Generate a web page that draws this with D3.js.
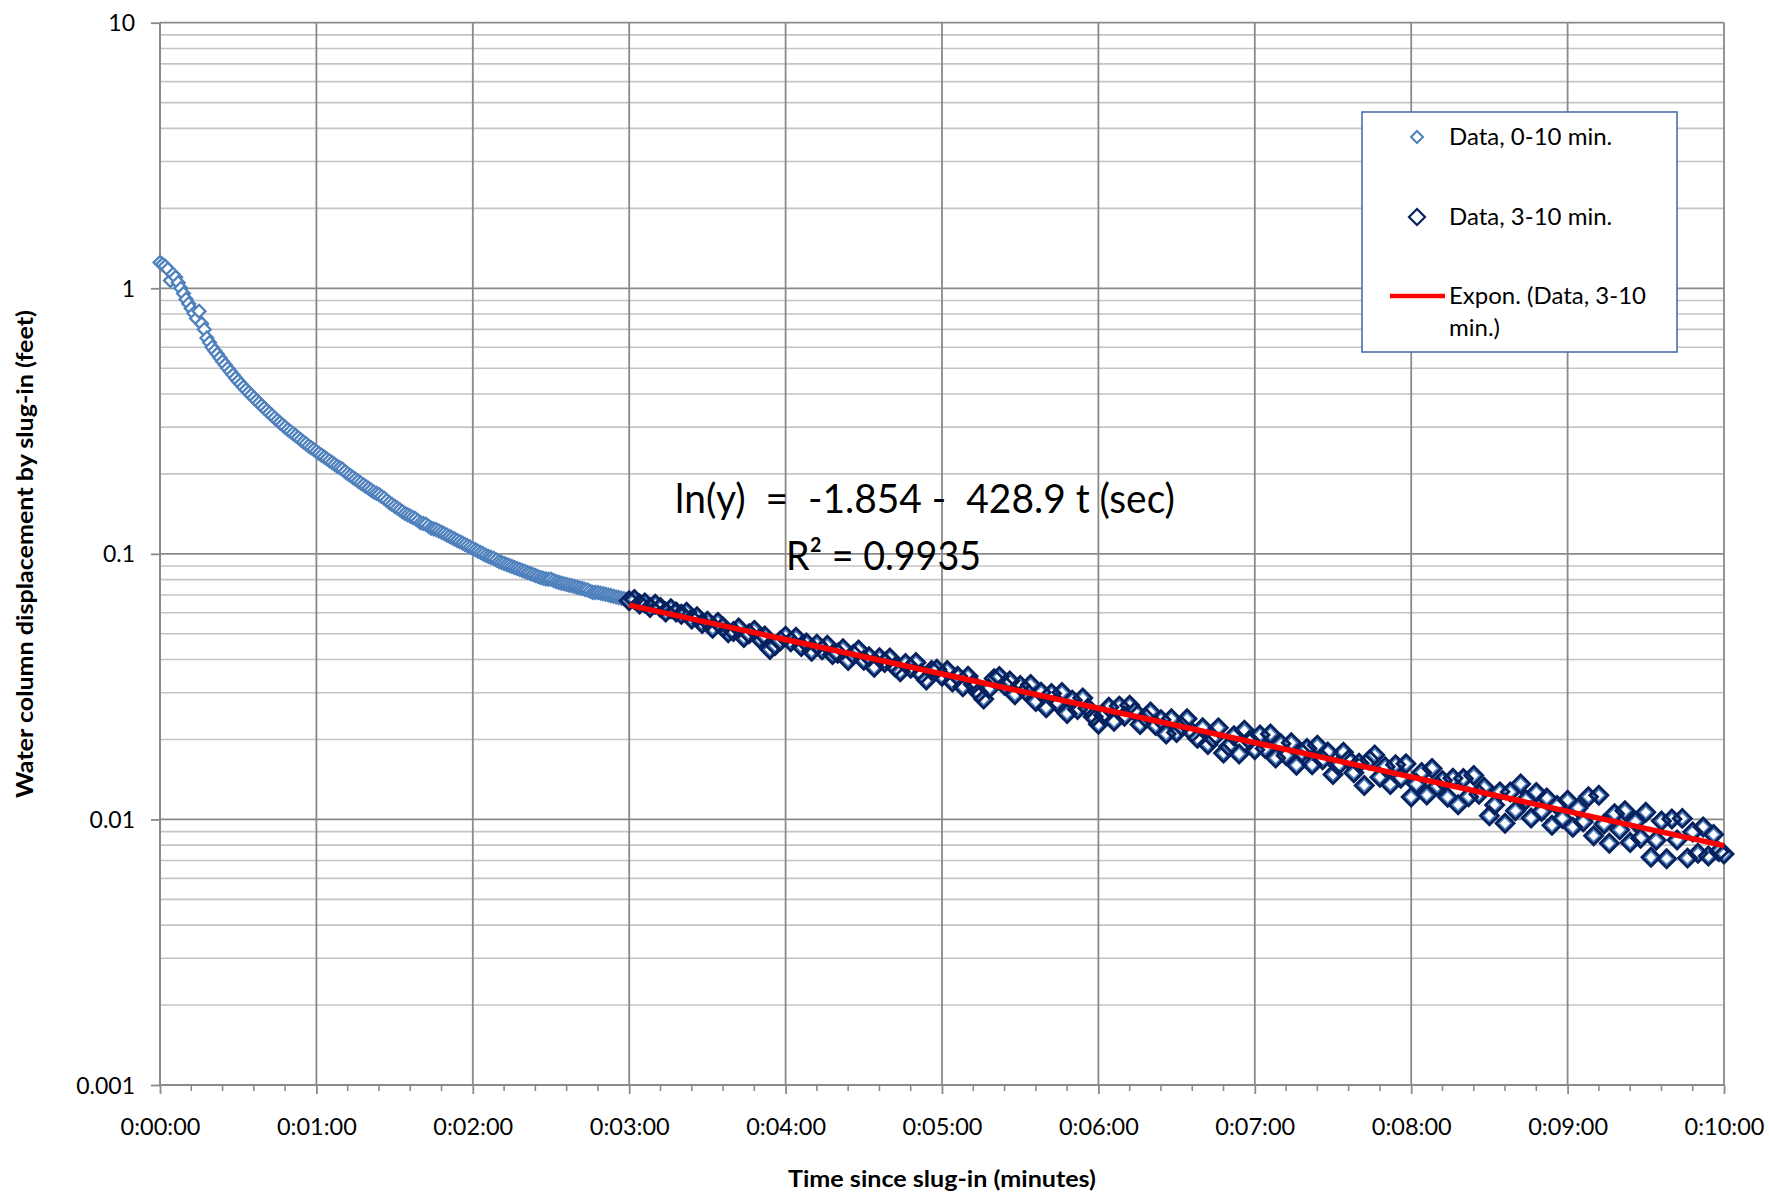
<!DOCTYPE html>
<html>
<head>
<meta charset="utf-8">
<script src="https://cdn.jsdelivr.net/npm/d3@7"></script>
<style>
  body { margin: 0; background: #fff; }
  text { font-family: Lato, "Open Sans", sans-serif; fill: #000; }
</style>
</head>
<body>
<div id="chartArea"></div>
<script>

// logger readings, water column displacement (feet)
// first 3 minutes every 1 s, after that every 2 s
var earlyStartSec = 0, earlyStepSec = 1
var earlyFeet = [
  1.25, 1.23, 1.21, 1.18, 1.07, 1.13, 1.10, 1.05, 1.00, 0.955,
  0.91, 0.875, 0.84, 0.805, 0.77, 0.82, 0.735, 0.70, 0.65, 0.625,
  0.60, 0.582, 0.565, 0.547, 0.53, 0.515, 0.50, 0.486, 0.472, 0.459,
  0.447, 0.436, 0.425, 0.415, 0.405, 0.396, 0.387, 0.378, 0.370, 0.362,
  0.354, 0.346, 0.339, 0.332, 0.325, 0.318, 0.312, 0.306, 0.300, 0.294,
  0.289, 0.284, 0.279, 0.274, 0.269, 0.264, 0.260, 0.255, 0.251, 0.247,
  0.243, 0.239, 0.2353, 0.2316, 0.2279, 0.2243, 0.2207, 0.2172, 0.2137, 0.2110,
  0.2085, 0.2040, 0.2004, 0.1972, 0.1941, 0.1910, 0.1879, 0.1850, 0.1821, 0.1793,
  0.1765, 0.1738, 0.1711, 0.1690, 0.1672, 0.1645, 0.1620, 0.1589, 0.1559, 0.1535,
  0.1511, 0.1488, 0.1465, 0.1442, 0.1420, 0.1403, 0.1387, 0.1371, 0.1355, 0.1332,
  0.1310, 0.1301, 0.1293, 0.1271, 0.1250, 0.1242, 0.1234, 0.1220, 0.1206, 0.1192,
  0.1178, 0.1164, 0.1151, 0.1137, 0.1124, 0.1111, 0.1098, 0.1085, 0.1073, 0.1060,
  0.1048, 0.1036, 0.1024, 0.1012, 0.1000, 0.0988, 0.0977, 0.0970, 0.0962, 0.0949,
  0.0936, 0.0928, 0.0920, 0.0912, 0.0904, 0.0896, 0.0888, 0.0880, 0.0873, 0.0865,
  0.0858, 0.0850, 0.0843, 0.0836, 0.0829, 0.0821, 0.0814, 0.0810, 0.0805, 0.0803,
  0.0802, 0.0794, 0.0786, 0.0781, 0.0776, 0.0771, 0.0767, 0.0762, 0.0758, 0.0753,
  0.0749, 0.0744, 0.0740, 0.0735, 0.0731, 0.0723, 0.0716, 0.0716, 0.0715, 0.0711,
  0.0708, 0.0704, 0.0700, 0.0696, 0.0692, 0.0688, 0.0685, 0.0681, 0.0678, 0.0674
]

var lateStartSec = 180, lateStepSec = 2
var lateFeet = [
  0.06664, 0.06726, 0.06470, 0.06531, 0.06281, 0.06464, 0.06278, 0.06038, 0.06215, 0.06036,
  0.05918, 0.06032, 0.05688, 0.05801, 0.05464, 0.05576, 0.05248, 0.05521, 0.05305, 0.05041,
  0.05096, 0.05254, 0.04842, 0.04998, 0.05151, 0.04800, 0.04901, 0.04362, 0.04513, 0.04709,
  0.04900, 0.04663, 0.04850, 0.04478, 0.04618, 0.04301, 0.04572, 0.04349, 0.04526, 0.04176,
  0.04222, 0.04393, 0.03970, 0.04181, 0.04347, 0.03976, 0.04100, 0.03738, 0.04059, 0.03901,
  0.04057, 0.03746, 0.03595, 0.03863, 0.03712, 0.03898, 0.03529, 0.03348, 0.03639, 0.03675,
  0.03461, 0.03637, 0.03290, 0.03462, 0.03157, 0.03462, 0.03228, 0.02998, 0.02838, 0.03101,
  0.03390, 0.03451, 0.03198, 0.03321, 0.02950, 0.03195, 0.03043, 0.03222, 0.02777, 0.03013,
  0.02635, 0.02982, 0.02754, 0.03008, 0.02505, 0.02811, 0.02592, 0.02863, 0.02622, 0.02436,
  0.02281, 0.02466, 0.02647, 0.02341, 0.02671, 0.02445, 0.02692, 0.02544, 0.02277, 0.02422,
  0.02540, 0.02257, 0.02374, 0.02097, 0.02396, 0.02123, 0.02237, 0.02392, 0.02127, 0.02019,
  0.02215, 0.01915, 0.02023, 0.02212, 0.01777, 0.01882, 0.02066, 0.01764, 0.02165, 0.01986,
  0.01830, 0.02081, 0.01851, 0.02098, 0.01703, 0.01926, 0.01742, 0.01943, 0.01600, 0.01780,
  0.01851, 0.01605, 0.01901, 0.01677, 0.01796, 0.01476, 0.01595, 0.01792, 0.01677, 0.01499,
  0.01628, 0.01343, 0.01675, 0.01750, 0.01442, 0.01580, 0.01354, 0.01608, 0.01430, 0.01621,
  0.01214, 0.01359, 0.01502, 0.01235, 0.01556, 0.01334, 0.01402, 0.01213, 0.01428, 0.01136,
  0.01427, 0.01218, 0.01463, 0.01245, 0.01321, 0.01033, 0.01134, 0.01270, 0.00967, 0.01269,
  0.01078, 0.01361, 0.01185, 0.01012, 0.01264, 0.01072, 0.01205, 0.00950, 0.01128, 0.01008,
  0.01180, 0.00935, 0.01105, 0.00979, 0.01217, 0.00868, 0.01233, 0.00961, 0.00813, 0.01050,
  0.009134, 0.010776, 0.008192, 0.009809, 0.008498, 0.010634, 0.007200, 0.008340, 0.009873, 0.007110,
  0.010030, 0.008363, 0.010091, 0.007150, 0.008963, 0.007452, 0.009368, 0.007277, 0.008777, 0.007564,
  0.007408
]

// Excel exponential trendline, end points (ln(y) = -1.854 - 428.9 t[days])
var trendSec = [180, 600]
var trendFeet = [0.06408, 0.007966]

var yTicks = [0.001, 0.01, 0.1, 1, 10]
var yTickLabels = ["0.001", "0.01", "0.1", "1", "10"]
var xTickSec = [0, 60, 120, 180, 240, 300, 360, 420, 480, 540, 600]
var xTickLabels = ["0:00:00", "0:01:00", "0:02:00", "0:03:00", "0:04:00", "0:05:00",
  "0:06:00", "0:07:00", "0:08:00", "0:09:00", "0:10:00"]

var seriesNames = ["Data, 0-10 min.", "Data, 3-10 min.", "Expon. (Data, 3-10", "min.)"]

var W = 1769, H = 1194
var plotLeft = 160, plotRight = 1724, plotTop = 22.7, plotBottom = 1085

var lightBlue = "#4f81bd", navy = "#06215e", red = "#ff0000"
var gridMajor = "#8a8a8a", gridMinor = "#c4c4c4"

// build points
var allPts = []
earlyFeet.forEach(function (v, i) { allPts.push({ t: earlyStartSec + i * earlyStepSec, v: v }) })
lateFeet.forEach(function (v, i) { allPts.push({ t: lateStartSec + i * lateStepSec, v: v }) })
var latePts = allPts.filter(function (d) { return d.t >= 180 })

var x = d3.scaleLinear().domain([0, 600]).range([plotLeft, plotRight])
var y = d3.scaleLog().domain([0.001, 10]).range([plotBottom, plotTop])

var svg = d3.select('#chartArea').append('svg')
  .attr('width', W).attr('height', H)
  .style('display', 'block')

svg.append('rect').attr('width', W).attr('height', H).attr('fill', '#fff')

// minor horizontal grid (2..9 in each decade)
var minorY = []
yTicks.slice(0, -1).forEach(function (d) {
  for (var k = 2; k <= 9; k++) minorY.push(d * k)
})
svg.append('g').selectAll('line').data(minorY).enter().append('line')
  .attr('x1', plotLeft).attr('x2', plotRight)
  .attr('y1', function (d) { return y(d) }).attr('y2', function (d) { return y(d) })
  .attr('stroke', gridMinor).attr('stroke-width', 1.6)

// major grid
svg.append('g').selectAll('line').data(yTicks).enter().append('line')
  .attr('x1', plotLeft).attr('x2', plotRight)
  .attr('y1', function (d) { return y(d) }).attr('y2', function (d) { return y(d) })
  .attr('stroke', gridMajor).attr('stroke-width', 1.8)

svg.append('g').selectAll('line').data(xTickSec).enter().append('line')
  .attr('x1', function (d) { return x(d) }).attr('x2', function (d) { return x(d) })
  .attr('y1', plotTop).attr('y2', plotBottom)
  .attr('stroke', gridMajor).attr('stroke-width', 1.8)

// y axis
var yAxis = d3.axisLeft(y).tickValues(yTicks).tickSize(9)
  .tickFormat(function (d, i) { return yTickLabels[i] })
var gy = svg.append('g').attr('transform', 'translate(' + plotLeft + ',0)').call(yAxis)
gy.select('.domain').attr('d', 'M0,' + plotTop + 'V' + plotBottom)
  .attr('stroke', gridMajor).attr('stroke-width', 1.8)
gy.selectAll('.tick line').attr('stroke', gridMajor).attr('stroke-width', 1.8)
gy.selectAll('.tick text').attr('x', -25).attr('dy', '0.35em')
  .style('font-size', '23px').style('font-family', 'Lato')

// x axis, minor ticks every 12 s
var minorX = d3.range(0, 601, 12).filter(function (d) { return d % 60 != 0 })
svg.append('g').selectAll('line').data(minorX).enter().append('line')
  .attr('x1', function (d) { return x(d) }).attr('x2', function (d) { return x(d) })
  .attr('y1', plotBottom).attr('y2', plotBottom + 6)
  .attr('stroke', gridMajor).attr('stroke-width', 1.6)

var xAxis = d3.axisBottom(x).tickValues(xTickSec).tickSize(9)
  .tickFormat(function (d, i) { return xTickLabels[i] })
var gx = svg.append('g').attr('transform', 'translate(0,' + plotBottom + ')').call(xAxis)
gx.select('.domain').attr('d', 'M' + plotLeft + ',0H' + plotRight)
  .attr('stroke', gridMajor).attr('stroke-width', 1.8)
gx.selectAll('.tick line').attr('stroke', gridMajor).attr('stroke-width', 1.8)
gx.selectAll('.tick text').attr('y', 42).attr('dy', '0.35em')
  .style('font-size', '23.5px').style('font-family', 'Lato')

function diamond(h) {
  return 'M0,' + (-h) + 'L' + h + ',0L0,' + h + 'L' + (-h) + ',0Z'
}

// series 1, all data
svg.append('g').selectAll('path').data(allPts).enter().append('path')
  .attr('d', diamond(6.4))
  .attr('transform', function (d) { return 'translate(' + x(d.t) + ',' + y(d.v) + ')' })
  .attr('fill', '#fff').attr('stroke', lightBlue).attr('stroke-width', 2.3)

// series 2, 3-10 min
svg.append('g').selectAll('path').data(latePts).enter().append('path')
  .attr('d', diamond(9))
  .attr('transform', function (d) { return 'translate(' + x(d.t) + ',' + y(d.v) + ')' })
  .attr('fill', 'none').attr('stroke', navy).attr('stroke-width', 2.8)

// trendline
var trendData = trendSec.map(function (t, i) { return { t: t, v: trendFeet[i] } })
svg.append('path').datum(trendData)
  .attr('d', d3.line().x(function (d) { return x(d.t) }).y(function (d) { return y(d.v) }))
  .attr('fill', 'none').attr('stroke', red).attr('stroke-width', 5.5)

// equation
svg.append('text').attr('x', 675).attr('y', 513)
  .style('white-space', 'pre').style('font-size', '40px')
  .attr('textLength', 500).attr('lengthAdjust', 'spacingAndGlyphs')
  .text('ln(y)  =  -1.854 -  428.9 t (sec)')
svg.append('text').attr('x', 786).attr('y', 570)
  .style('font-size', '40px')
  .attr('textLength', 195).attr('lengthAdjust', 'spacingAndGlyphs')
  .text('R² = 0.9935')

// axis titles
svg.append('text').attr('x', 942).attr('y', 1187)
  .attr('text-anchor', 'middle').style('font-size', '22px').style('font-weight', 'bold')
  .attr('textLength', 308).attr('lengthAdjust', 'spacingAndGlyphs')
  .text('Time since slug-in (minutes)')
svg.append('text')
  .attr('transform', 'translate(33,554) rotate(-90)')
  .attr('text-anchor', 'middle').style('font-size', '22px').style('font-weight', 'bold')
  .attr('textLength', 488).attr('lengthAdjust', 'spacingAndGlyphs')
  .text('Water column displacement by slug-in (feet)')

// legend
var lg = svg.append('g')
lg.append('rect').attr('x', 1362).attr('y', 112).attr('width', 315).attr('height', 240)
  .attr('fill', '#fff').attr('stroke', '#4a6ea8').attr('stroke-width', 1.6)
lg.append('path').attr('d', diamond(6)).attr('transform', 'translate(1417,137)')
  .attr('fill', '#fff').attr('stroke', lightBlue).attr('stroke-width', 2)
lg.append('path').attr('d', diamond(8)).attr('transform', 'translate(1417,217)')
  .attr('fill', '#fff').attr('stroke', navy).attr('stroke-width', 2.2)
lg.append('line').attr('x1', 1390).attr('x2', 1445).attr('y1', 296).attr('y2', 296)
  .attr('stroke', red).attr('stroke-width', 4.5)
var legendY = [137, 217, 296, 328]
lg.selectAll('text.lab').data(seriesNames).enter().append('text')
  .attr('class', 'lab')
  .attr('x', 1449).attr('y', function (d, i) { return legendY[i] })
  .attr('dy', '0.35em').style('font-size', '24px')
  .text(function (d) { return d })

</script>
</body>
</html>
